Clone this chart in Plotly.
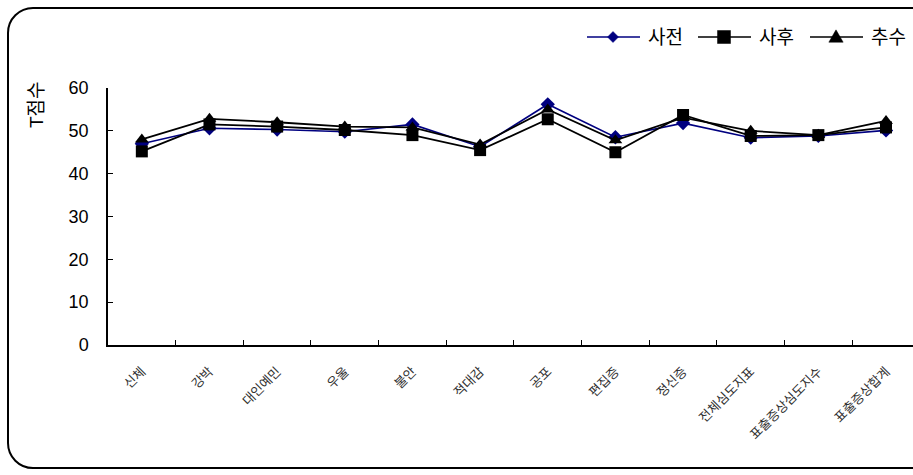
import plotly.graph_objects as go

# 척도별 T점수
categories = ["신체", "강박", "대인예민", "우울", "불안", "적대감", "공포",
              "편집증", "정신증", "전체심도지표", "표출증상심도지수", "표출증상합계"]
pre = [47.0, 50.6, 50.3, 49.8, 51.5, 46.3, 56.2, 48.5, 51.8, 48.4, 48.8, 50.1]
post = [45.2, 51.5, 51.0, 50.2, 49.0, 45.5, 52.7, 45.0, 53.7, 48.8, 49.0, 50.8]
follow = [48.0, 52.8, 52.0, 51.0, 50.8, 46.8, 55.0, 47.8, 53.1, 50.0, 49.0, 52.3]
series_names = ["사전", "사후", "추수"]
y_ticks = [0, 10, 20, 30, 40, 50, 60]

W, H = 913, 475
ML, MR, MT, MB = 108, 0, 88, 130
PW, PH = W - ML - MR, H - MT - MB

FONT = "Liberation Sans, Arial, Noto Sans CJK KR, sans-serif"
NAVY = "#000080"


def px(x):
    return (x - ML) / PW


def py(y):
    return (H - MB - y) / PH


styles = [
    dict(color=NAVY, width=1.6, symbol="diamond", size=11),
    dict(color="black", width=1.8, symbol="square", size=12),
    dict(color="black", width=1.8, symbol="triangle-up", size=12),
]

fig = go.Figure()
for name, vals, st in zip(series_names, [pre, post, follow], styles):
    fig.add_trace(go.Scatter(
        x=categories, y=vals, name=name, mode="lines+markers",
        line=dict(color=st["color"], width=st["width"]),
        marker=dict(symbol=st["symbol"], size=st["size"], color=st["color"]),
        showlegend=False,
    ))

# rounded outer frame (right side runs past the page edge)
L, T, B, R, r = 8, 8, 468, 960, 25
k = 0.5523 * r
path = (
    f"M {px(R)} {py(T)} L {px(L + r)} {py(T)} "
    f"C {px(L + r - k)} {py(T)} {px(L)} {py(T + r - k)} {px(L)} {py(T + r)} "
    f"L {px(L)} {py(B - r)} "
    f"C {px(L)} {py(B - r + k)} {px(L + r - k)} {py(B)} {px(L + r)} {py(B)} "
    f"L {px(R)} {py(B)}"
)
fig.add_shape(type="path", xref="paper", yref="paper", path=path,
              line=dict(color="black", width=2), layer="below")


# legend row drawn in page pixels: line segment, marker, label
def marker_path(symbol, cx, cy, s):
    if symbol == "diamond":
        pts = [(cx, cy - s), (cx + s, cy), (cx, cy + s), (cx - s, cy)]
    elif symbol == "square":
        pts = [(cx - s, cy - s), (cx + s, cy - s), (cx + s, cy + s), (cx - s, cy + s)]
    else:
        pts = [(cx, cy - s * 1.1), (cx + s * 1.1, cy + s * 0.8), (cx - s * 1.1, cy + s * 0.8)]
    return "M " + " L ".join(f"{px(a)} {py(b)}" for a, b in pts) + " Z"


LEG_Y = 37
legend_x = [587, 698, 810]
marker_half = [5.5, 6.5, 6.5]
for name, st, x0, hs in zip(series_names, styles, legend_x, marker_half):
    fig.add_shape(type="line", xref="paper", yref="paper",
                  x0=px(x0), x1=px(x0 + 53), y0=py(LEG_Y), y1=py(LEG_Y),
                  line=dict(color=st["color"], width=1.6))
    fig.add_shape(type="path", xref="paper", yref="paper",
                  path=marker_path(st["symbol"], x0 + 26, LEG_Y, hs),
                  fillcolor=st["color"], line=dict(color=st["color"], width=0.5))
    fig.add_annotation(text=name, xref="paper", yref="paper",
                       x=px(x0 + 59), y=py(LEG_Y), xanchor="left", yanchor="middle",
                       showarrow=False,
                       font=dict(size=19, color="black", family=FONT))

fig.add_annotation(
    text="T점수", xref="paper", yref="paper", x=px(36), y=py(105),
    xanchor="center", yanchor="middle",
    showarrow=False, textangle=-90, font=dict(size=19, color="black", family=FONT),
)

fig.update_layout(
    width=W, height=H,
    margin=dict(l=ML, r=MR, t=MT, b=MB, pad=0),
    paper_bgcolor="white", plot_bgcolor="white",
    font=dict(family=FONT, color="black"),
    showlegend=False,
    xaxis=dict(
        type="category", range=[-0.5, 11 + (W - 886) / 67.7],
        showline=True, linecolor="black", linewidth=1.5,
        ticks="inside", ticklen=5, tickcolor="black", tickson="boundaries",
        tickangle=-45, ticklabelstandoff=12,
        tickfont=dict(size=13, color="#303030", family=FONT),
        showgrid=False, zeroline=False,
    ),
    yaxis=dict(
        range=[0, 60], tickvals=y_ticks,
        showline=True, linecolor="black", linewidth=1.5,
        ticks="inside", ticklen=5, tickcolor="black",
        ticklabelstandoff=14,
        tickfont=dict(size=18, color="black", family=FONT),
        showgrid=False, zeroline=False,
    ),
)

fig.write_html("out.html")
